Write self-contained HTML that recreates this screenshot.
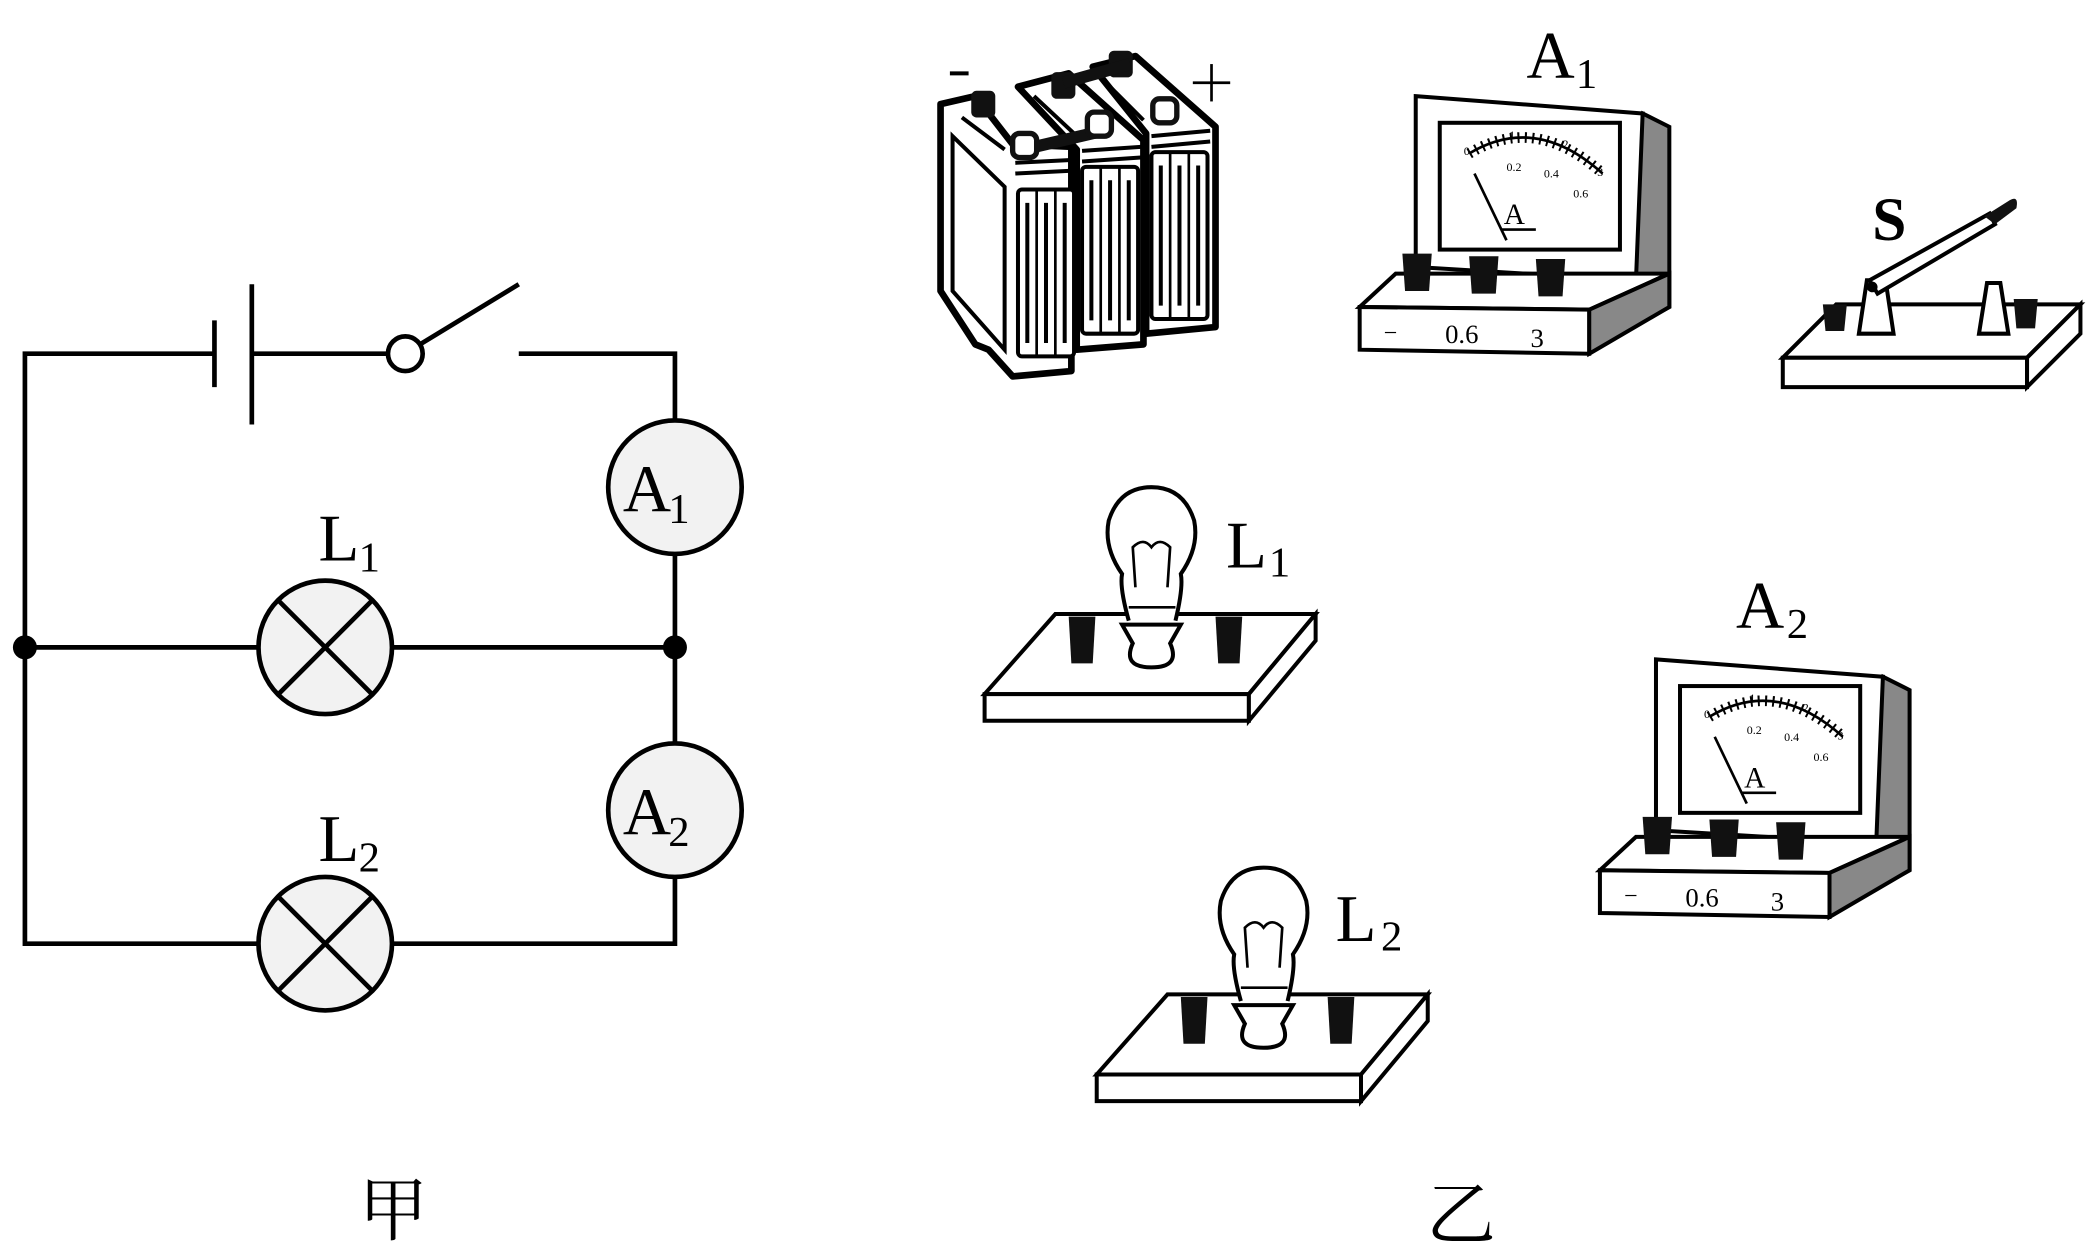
<!DOCTYPE html>
<html><head><meta charset="utf-8"><style>
html,body{margin:0;padding:0;background:#fff;}
svg{display:block;}
text{font-family:"Liberation Serif","Noto Serif CJK SC",serif;fill:#000;}
</style></head><body>
<svg width="2088" height="1252" viewBox="0 0 1563 938" xmlns="http://www.w3.org/2000/svg">
<defs>
<g id="amm">
  <polygon points="1230,85 1250,95 1250,230 1190,262 1190,200" fill="#888" stroke="#000" stroke-width="3"/>
  <polygon points="1060,72 1230,85 1225,210 1060,200" fill="#fff" stroke="#000" stroke-width="3"/>
  <rect x="1078" y="92" width="135" height="95" fill="#fff" stroke="#000" stroke-width="3"/>
  <path d="M1100,115 Q1150,85 1200,130" fill="none" stroke="#000" stroke-width="2"/>
  <path d="M1100,115 Q1150,85 1200,130" fill="none" stroke="#000" stroke-width="8" stroke-dasharray="1.5,4"/>
  <text x="1096" y="116" font-size="9">0</text><text x="1130" y="104" font-size="9">1</text>
  <text x="1170" y="111" font-size="9">2</text><text x="1196" y="132" font-size="9">3</text>
  <text x="1128" y="128" font-size="9">0.2</text><text x="1156" y="133" font-size="9">0.4</text><text x="1178" y="148" font-size="9">0.6</text>
  <line x1="1104" y1="130" x2="1128" y2="180" stroke="#000" stroke-width="2"/>
  <text x="1126" y="168" font-size="22">A</text>
  <line x1="1124" y1="172" x2="1150" y2="172" stroke="#000" stroke-width="2"/>
  <polygon points="1018,230 1045,205 1250,205 1190,232" fill="#fff" stroke="#000" stroke-width="3"/>
  <polygon points="1018,230 1190,232 1190,265 1018,262" fill="#fff" stroke="#000" stroke-width="3"/>
  <polygon points="1190,232 1250,205 1250,230 1190,265" fill="#888" stroke="#000" stroke-width="3"/>
  <path d="M1050,190 h22 l-2,28 h-18 z" fill="#111"/>
  <path d="M1100,192 h22 l-2,28 h-18 z" fill="#111"/>
  <path d="M1150,194 h22 l-2,28 h-18 z" fill="#111"/>
  <text x="1036" y="255" font-size="18">−</text>
  <text x="1082" y="257" font-size="20">0.6</text>
  <text x="1146" y="260" font-size="20">3</text>
</g>
<g id="bulb">
  <polygon points="737,520 790,460 985,460 935,520" fill="#fff" stroke="#000" stroke-width="3"/>
  <polygon points="737,520 935,520 935,540 737,540" fill="#fff" stroke="#000" stroke-width="3"/>
  <polygon points="935,520 985,460 985,480 935,540" fill="#fff" stroke="#000" stroke-width="3"/>
  <path d="M800,462 h20 l-2,35 h-16 z" fill="#111"/>
  <path d="M910,462 h20 l-2,35 h-16 z" fill="#111"/>
  <path d="M845,465 Q838,440 840,430 Q826,410 830,390 Q838,365 862,365 Q886,365 894,390 Q898,410 884,430 Q886,440 880,465" fill="#fff" stroke="#000" stroke-width="3"/>
  <path d="M840,468 L848,482 Q840,500 862,500 Q884,500 876,482 L884,468 z" fill="#fff" stroke="#000" stroke-width="3"/>
  <path d="M850,440 L848,410 Q856,402 862,410 Q868,402 876,410 L874,440" fill="none" stroke="#000" stroke-width="2"/>
  <line x1="845" y1="455" x2="880" y2="455" stroke="#000" stroke-width="2"/>
</g>
<g id="grill">
  <rect x="0" y="0" width="42" height="125" rx="3" fill="#fff" stroke="#000" stroke-width="3"/>
  <line x1="14" y1="0" x2="14" y2="125" stroke="#000" stroke-width="2"/>
  <line x1="28" y1="0" x2="28" y2="125" stroke="#000" stroke-width="2"/>
  <line x1="7" y1="10" x2="7" y2="115" stroke="#000" stroke-width="3"/>
  <line x1="21" y1="10" x2="21" y2="115" stroke="#000" stroke-width="3"/>
  <line x1="35" y1="10" x2="35" y2="115" stroke="#000" stroke-width="3"/>
</g>
</defs>

<!-- ===== 甲 circuit ===== -->
<g stroke="#000" stroke-width="3.5" fill="none">
  <polyline points="160,265 18,265 18,707 193,707"/>
  <line x1="188" y1="265" x2="290" y2="265"/>
  <line x1="160" y1="240" x2="160" y2="290"/>
  <line x1="188" y1="213" x2="188" y2="318"/>
  <line x1="314" y1="258" x2="388" y2="213"/>
  <polyline points="388,265 505,265 505,315"/>
  <line x1="505" y1="415" x2="505" y2="557"/>
  <polyline points="505,657 505,707 293,707"/>
  <line x1="18" y1="485" x2="193" y2="485"/>
  <line x1="293" y1="485" x2="505" y2="485"/>
</g>
<circle cx="303" cy="265" r="13" fill="#fff" stroke="#000" stroke-width="3.5"/>
<circle cx="505" cy="365" r="50" fill="#f2f2f2" stroke="#000" stroke-width="3.5"/>
<circle cx="505" cy="607" r="50" fill="#f2f2f2" stroke="#000" stroke-width="3.5"/>
<circle cx="243" cy="485" r="50" fill="#f2f2f2" stroke="#000" stroke-width="3.5"/>
<circle cx="243" cy="707" r="50" fill="#f2f2f2" stroke="#000" stroke-width="3.5"/>
<g stroke="#000" stroke-width="3.5">
  <line x1="208" y1="450" x2="278" y2="520"/><line x1="278" y1="450" x2="208" y2="520"/>
  <line x1="208" y1="672" x2="278" y2="742"/><line x1="278" y1="672" x2="208" y2="742"/>
</g>
<circle cx="18" cy="485" r="9" fill="#000"/>
<circle cx="505" cy="485" r="9" fill="#000"/>
<text x="466" y="383" font-size="50">A</text><text x="500" y="392" font-size="32">1</text>
<text x="466" y="625" font-size="50">A</text><text x="500" y="634" font-size="32">2</text>
<text x="238" y="420" font-size="50">L</text><text x="268" y="428" font-size="32">1</text>
<text x="238" y="645" font-size="50">L</text><text x="268" y="653" font-size="32">2</text>
<text x="268" y="925" font-size="52">甲</text>
<text x="1068" y="928" font-size="52">乙</text>

<!-- ===== batteries ===== -->
<g stroke="#000" stroke-width="5" stroke-linejoin="round" fill="#fff">
  <polygon points="818,50 850,42 910,95 910,245 858,250 858,100"/>
  <polygon points="762,65 800,55 856,105 856,258 806,262 806,112"/>
  <polygon points="704,78 730,72 758,108 802,110 802,278 758,282 740,262 730,258 704,218"/>
</g>
<g stroke="#000" stroke-width="3" fill="none">
  <polygon points="713,102 752,140 752,262 713,218" fill="#fff"/>
  <line x1="760" y1="122" x2="800" y2="120"/><line x1="760" y1="130" x2="800" y2="128"/>
  <line x1="810" y1="113" x2="854" y2="110"/><line x1="810" y1="121" x2="854" y2="118"/>
  <line x1="862" y1="102" x2="906" y2="98"/><line x1="862" y1="110" x2="906" y2="106"/>
  <line x1="720" y1="88" x2="752" y2="112"/><line x1="774" y1="72" x2="804" y2="100"/><line x1="828" y1="62" x2="856" y2="90"/>
</g>
<use href="#grill" transform="translate(762,142)"/>
<use href="#grill" transform="translate(810,125)"/>
<use href="#grill" transform="translate(862,114)"/>
<g fill="#111">
  <rect x="727" y="68" width="18" height="20" rx="4"/>
  <rect x="787" y="54" width="18" height="20" rx="4"/>
  <rect x="830" y="38" width="18" height="20" rx="4"/>
</g>
<path d="M766,112 L826,98" stroke="#111" stroke-width="9"/>
<path d="M796,62 L846,48" stroke="#111" stroke-width="9"/>
<g fill="#fff" stroke="#111" stroke-width="4">
  <rect x="758" y="100" width="18" height="18" rx="5"/>
  <rect x="814" y="84" width="18" height="18" rx="5"/>
  <rect x="863" y="74" width="18" height="18" rx="5"/>
</g>
<line x1="711" y1="55" x2="725" y2="55" stroke="#000" stroke-width="3"/>
<line x1="893" y1="62" x2="921" y2="62" stroke="#000" stroke-width="2"/>
<line x1="907" y1="48" x2="907" y2="76" stroke="#000" stroke-width="2"/>

<!-- ammeters -->
<use href="#amm"/>
<text x="1143" y="58" font-size="50">A</text><text x="1180" y="66" font-size="32">1</text>
<use href="#amm" transform="translate(180,422)"/>
<text x="1300" y="470" font-size="50">A</text><text x="1338" y="478" font-size="32">2</text>

<!-- switch -->
<polygon points="1335,268 1375,228 1558,228 1518,268" fill="#fff" stroke="#000" stroke-width="3"/>
<polygon points="1335,268 1518,268 1518,290 1335,290" fill="#fff" stroke="#000" stroke-width="3"/>
<polygon points="1518,268 1558,228 1558,250 1518,290" fill="#fff" stroke="#000" stroke-width="3"/>
<path d="M1365,228 h18 l-2,20 h-14 z" fill="#111"/>
<path d="M1508,224 h18 l-2,22 h-14 z" fill="#111"/>
<path d="M1392,250 L1398,210 h14 L1418,250 z" fill="#fff" stroke="#000" stroke-width="3"/>
<path d="M1482,250 L1488,212 h10 L1504,250 z" fill="#fff" stroke="#000" stroke-width="3"/>
<polygon points="1400,210 1490,160 1494,168 1406,220" fill="#fff" stroke="#000" stroke-width="3"/>
<path d="M1486,162 L1505,150 Q1512,146 1510,156 L1494,168 z" fill="#111"/>
<circle cx="1402" cy="215" r="4" fill="#000"/>
<text x="1402" y="180" font-size="46" font-weight="bold">S</text>

<!-- bulbs -->
<use href="#bulb"/>
<text x="918" y="425" font-size="50">L</text><text x="950" y="432" font-size="32">1</text>
<use href="#bulb" transform="translate(84,285)"/>
<text x="1000" y="705" font-size="50">L</text><text x="1034" y="712" font-size="32">2</text>
</svg>
</body></html>
